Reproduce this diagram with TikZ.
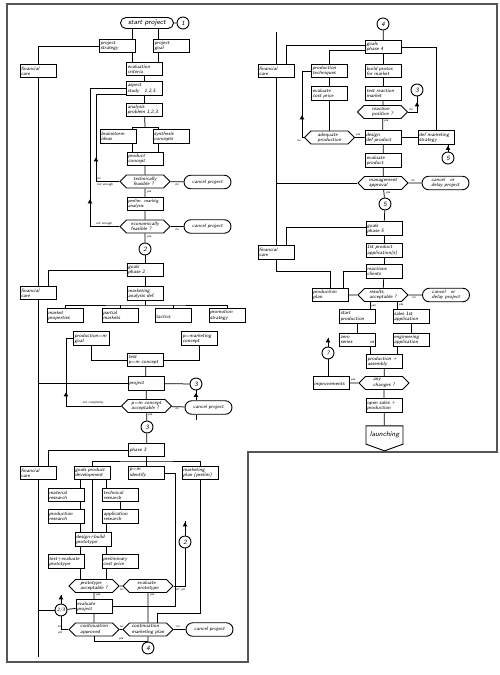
\documentclass[tikz,border=0pt]{standalone}
\usepackage{fontspec}
\usepackage{tikz}
\usetikzlibrary{shapes.geometric, shapes.misc, shapes.symbols, positioning, calc}
\definecolor{framegray}{RGB}{85,85,85}
\newcommand{\flowfont}{\fontsize{5}{5.4}\selectfont\sffamily\itshape}
\newcommand{\bigflowfont}{\fontsize{7}{8}\selectfont\sffamily\itshape}
\newcommand{\tinyflowfont}{\fontsize{3.2}{3.6}\selectfont\sffamily\itshape}

\begin{document}
\begin{tikzpicture}[
    x=1pt, y=-1pt, line width=0.75pt,
    box/.style={rectangle, draw, line width=0.9pt, minimum width=36pt, minimum height=13.5pt, text width=34pt, inner xsep=1pt, inner ysep=1.5pt, align=left, font=\flowfont},
    dec/.style={signal, signal to=east and west, draw, line width=0.9pt, minimum width=50pt, minimum height=13pt, inner sep=1pt, align=left, font=\flowfont},
    term/.style={rounded rectangle, draw, line width=0.9pt, minimum width=49pt, minimum height=13.5pt, inner sep=1pt, align=left, font=\flowfont},
    conn/.style={circle, draw, line width=0.9pt, minimum size=12pt, inner sep=0pt, font=\fontsize{6.5}{7}\selectfont\sffamily\itshape},
    upmark/.style={isosceles triangle, isosceles triangle apex angle=60, shape border rotate=90, fill, inner sep=0pt, minimum size=4pt},
    lbl/.style={font=\tinyflowfont, inner sep=0pt}
]
\useasboundingbox (0,0) rectangle (500,675);
\draw[framegray, line width=1.6pt] (7,4) -- (497,4) -- (497,452) -- (248,452) -- (248,662) -- (7,662) -- cycle;

% left column
\node[term, minimum width=55pt, minimum height=11pt, font=\bigflowfont] (startp) at (147,23) {start project};
\node[conn] (c1) at (183,23) {1};
\node[box] (pstrat) at (117.5,46) {project\\strategy};
\node[box] (pgoal) at (171.5,46) {project\\goal};
\node[box] (fin1) at (38,71) {financial\\care};
\node[box] (evalc) at (144.5,69) {evaluation\\criteria};
\node[box] (aspect) at (144.5,88.5) {aspect\\study\quad 1,2,3.};
\node[box] (analysis) at (144.5,110) {analysis\\problem 1,2,3.};
\node[box] (brain) at (118,136.5) {brainstorm\\ideas};
\node[box] (synth) at (171,136.5) {synthesis\\concepts};
\node[box] (pconc) at (145,159) {product\\concept};
\node[dec] (techf) at (145,181.5) {technically\\feasible ?};
\node[term] (cancel1) at (207.5,182) {cancel project};
\node[box, font=\fontsize{4.6}{5.4}\selectfont\sffamily\itshape] (prelim) at (145,204) {prelim. marktg\\analysis};
\node[dec] (econf) at (145,226.5) {economically\\feasible ?};
\node[term] (cancel2) at (207.5,226.5) {cancel project};
\node[conn] (c2a) at (145,249) {2};
\node[box] (goals2) at (145,270) {goals\\phase 2};
\node[box] (fin2) at (38,293) {financial\\care};
\node[box] (mkta) at (145,293.5) {marketing\\analysis def.};
\node[box] (mprop) at (65,315.5) {market\\properties};
\node[box] (pmark) at (120,315.5) {partial\\markets};
\node[box] (tact) at (173,315.5) {\mbox{}\\tactics};
\node[box] (promo) at (227,315.5) {promotion\\strategy};
\node[box] (pmgoal) at (91.5,338.5) {production=m\\goal};
\node[box] (pmconc) at (199.5,338.5) {p=marketing\\concept};
\node[box] (testpm) at (145.5,360) {test\\p=m concept};
\node[box] (project) at (146,383.5) {project};
\node[conn] (c3a) at (196,384) {3};
\node[dec] (pmacc) at (146.5,406) {p=m concept\\acceptable ?};
\node[term] (cancel3) at (208.5,407.5) {cancel project};
\node[conn] (c3b) at (147,427) {3};
\node[box] (phase3) at (146.5,450) {phase 3};
\node[box] (fin3) at (38,473) {financial\\care};
\node[box] (gpd) at (92,473) {goals product\\development};
\node[box] (pmid) at (146.5,473) {p=m\\identify};
\node[box] (mplan) at (200,473) {marketing\\plan (prelim)};
\node[box] (matr) at (66,495) {material\\research};
\node[box] (techr) at (120.5,495) {technical\\research};
\node[box] (prodr) at (66,516.5) {production\\research};
\node[box] (applr) at (120.5,516.5) {application\\research};
\node[box] (design) at (93,539.5) {design+build\\prototype};
\node[conn] (c2b) at (185,542) {2};
\node[box] (testev) at (66,561.5) {test+evaluate\\prototype};
\node[box] (prelcp) at (120,561.5) {preliminary\\cost price};
\node[dec] (protacc) at (94,586) {prototype\\acceptable ?};
\node[dec] (evalprot) at (148,586) {evaluate\\prototype};
\node[box] (evalproj) at (94,606.5) {evaluate\\project};
\node[conn, font=\fontsize{5}{5}\selectfont\sffamily\itshape] (c23) at (61,610) {2/3};
\node[dec] (contapp) at (94,629.5) {continuation\\approved};
\node[dec] (contmkt) at (148,629.5) {continuation\\marketing plan};
\node[term] (cancel4) at (209.5,629.5) {cancel project};
\node[conn] (c4a) at (148,648) {4};

% right column
\node[conn] (c4b) at (383,24) {4};
\node[box] (goals4) at (383.5,47) {goals\\phase 4};
\node[box] (fin4) at (276,71) {financial\\care};
\node[box] (prodtech) at (329.5,71) {production\\techniques};
\node[box] (build) at (383.5,71) {build protos\\for market};
\node[box] (evcost) at (329.5,93.5) {evaluate\\cost price};
\node[box] (testreact) at (383.5,93.5) {test reaction\\market};
\node[conn] (c3c) at (417,90) {3};
\node[dec] (reactpos) at (382.5,112) {reaction\\positive ?};
\node[dec] (adequate) at (329.5,137.5) {adequate\\production};
\node[box] (designdef) at (383,137.5) {design\\def product};
\node[box] (defmkt) at (436,137.5) {def marketing\\strategy};
\node[conn] (c5a) at (448,158) {5};
\node[box] (evalprod) at (383.5,160.5) {evaluate\\product};
\node[dec] (mgmt) at (383,183) {management\\approval};
\node[term] (cancel5) at (445.5,183) {cancel\quad or\\delay project};
\node[conn] (c5b) at (385,204) {5};
\node[box] (goals5) at (384,228.5) {goals\\phase 5};
\node[box] (fin5) at (276,252.5) {financial\\care};
\node[box] (firstprod) at (384,250.5) {1st product\\application(s)};
\node[box] (reactcl) at (384,271.5) {reactions\\clients};
\node[box] (prodplan) at (330,295) {production\\plan};
\node[dec] (results) at (383,295) {results,\\acceptable ?};
\node[term] (cancel6) at (446,295) {cancel\quad or\\delay project};
\node[box] (startprod) at (357.5,316.5) {start\\production};
\node[box] (sales) at (411,316.5) {sales 1st\\application};
\node[box] (zero) at (357.5,340) {zero\\series\hfill or};
\node[box] (engin) at (411,340) {engineering\\application};
\node[box] (prodasm) at (384.5,361.5) {production +\\assembly};
\node[conn] (cq) at (328,353) {?};
\node[box] (improve) at (331,383) {\mbox{}\\improvements};
\node[dec] (anych) at (384,383) {any\\changes ?};
\node[box] (opensales) at (384,405.5) {open sales +\\production};
\node[signal, signal to=south, signal pointer angle=140, draw, line width=0.9pt, minimum width=37pt, minimum height=24pt, inner sep=1pt, font=\bigflowfont] (launch) at (384.5,435) {launching};

% markers
\node[upmark] (m1) at (96,160) {};
\node[upmark] (m2) at (90,202) {};
\node[upmark] (m3) at (66,395) {};
\node[upmark] (m4) at (196,395.5) {};
\node[upmark] (m5) at (185,525) {};
\node[upmark] (m6) at (61,598) {};
\node[upmark] (m7) at (417,105) {};
\node[upmark] (m8) at (302,118) {};
\node[upmark] (m9) at (448,148.5) {};
\node[upmark] (m10) at (328,341) {};

\coordinate (sx1) at (132,0);
\coordinate (sx2) at (158,0);
\coordinate (sx3) at (80,0);
\coordinate (sx4) at (92,0);
\coordinate (sx5) at (106,0);
\coordinate (fb1) at (96,94);
\coordinate (fb2) at (90,88);
\coordinate (fb3) at (66,0);
\coordinate (fb4) at (302,0);
\coordinate (fb5) at (0,271.5);
\coordinate (jn1) at (175,0);
\coordinate (mpl) at (157,613);
\coordinate (rx1) at (370,0);
\coordinate (rx2) at (397,0);
\coordinate (split1) at (145,127);
\coordinate (bus2) at (145,305);
\coordinate (bus3) at (146.5,461);
\coordinate (finend) at (38,657);
\coordinate (rtop) at (276,32);
\coordinate (c2btop) at (185,521);
\coordinate (c23top) at (61,595);
\coordinate (cqtop) at (328,338);
\coordinate (c3atail) at (196,420);

% left connectors
\draw (startp) -- (c1);
\draw (startp.south -| sx1) -- (pstrat.north -| sx1);
\draw (startp.south -| sx2) -- (pgoal.north -| sx2);
\draw (pstrat.south -| sx1) -- (evalc.north -| sx1);
\draw (pgoal.south -| sx2) -- (evalc.north -| sx2);
\draw (pstrat.west) -| (fin1.north);
\draw (fin1) -- (fin2);
\draw (fin2) -- (fin3);
\draw (fin3) -- (finend);
\draw (evalc) -- (aspect);
\draw (aspect) -- (analysis);
\draw (analysis) -- (split1);
\draw (brain.north -| sx1) -- (split1 -| sx1) -- (split1 -| sx2) -- (synth.north -| sx2);
\draw (brain.south -| sx1) -- (pconc.north -| sx1);
\draw (synth.south -| sx2) -- (pconc.north -| sx2);
\draw (pconc) -- (techf);
\draw (techf.west) -| (fb1) -- (aspect.west |- fb1);
\draw (techf) -- (cancel1);
\draw (techf) -- (prelim);
\draw (prelim) -- (econf);
\draw (econf.west) -| (fb2) -- (aspect.west |- fb2);
\draw (econf) -- (cancel2);
\draw (econf) -- (c2a);
\draw (c2a) -- (goals2);
\draw (goals2.west) -| ([xshift=10pt]fin2.north);
\draw (goals2) -- (mkta);
\draw (mkta) -- (bus2);
\draw (mprop.north) |- (bus2) -| (promo.north);
\draw (pmark.north) -- (pmark.north |- bus2);
\draw (tact.north) -- (tact.north |- bus2);
\draw (pmgoal.south) |- (testpm.west);
\draw (pmconc.south) |- (testpm.east);
\draw (testpm) -- (project);
\draw (project.west) -- (project.west -| fin2.south);
\draw (project) -- (c3a);
\draw (project) -- (pmacc);
\draw (pmacc.west) -| (pmgoal.west -| fb3) -- (pmgoal.west);
\draw (pmacc) -- (cancel3);
\draw (cancel3.north -| c3a) -- (c3a);
\draw (cancel3.south -| c3a) -- (c3atail);
\draw (pmacc) -- (c3b);
\draw (c3b) -- (phase3);
\draw (phase3.west) -| ([xshift=10pt]fin3.north);
\draw (phase3) -- (pmid);
\draw (gpd.north) |- (bus3) -| (mplan.north);
\draw (gpd.south -| sx3) -- (matr.north -| sx3);
\draw (matr.south -| sx3) -- (prodr.north -| sx3);
\draw (prodr.south -| sx3) -- (design.north -| sx3);
\draw (gpd.south -| sx4) -- (design.north -| sx4);
\draw (gpd.south -| sx5) -- (techr.north -| sx5);
\draw (techr) -- (applr);
\draw (applr.south -| sx5) -- (design.north -| sx5);
\draw (pmid.east) -| (evalproj.east -| jn1) -- (evalproj.east);
\draw (design.south -| sx3) -- (testev.north -| sx3);
\draw (design.south -| sx5) -- (prelcp.north -| sx5);
\draw (testev.south -| sx3) -- (protacc.north -| sx3);
\draw (prelcp.south -| sx5) -- (protacc.north -| sx5);
\draw (protacc) -- (evalprot);
\draw (protacc) -- (evalproj);
\draw (evalprot) -- (contmkt);
\draw (evalprot.east) -| (c2b.south);
\draw (c2b) -- (c2btop);
\draw (evalproj) -- (c23);
\draw (c23.west) -- (c23.west -| fin3.south);
\draw (c23) -- (c23top);
\draw (evalproj) -- (contapp);
\draw (contapp.west) -| (c23.south);
\draw (contapp) -- (contmkt);
\draw (contmkt) -- (cancel4);
\draw (mplan.south) |- (mpl) -- (contmkt.north -| mpl);
\draw (contapp.south) |- (c4a.north);
\draw (contmkt) -- (c4a);

% right connectors
\draw (rtop) -- (fin4);
\draw (fin4) -- (fin5);
\draw (c4b) -- (goals4);
\draw ([yshift=2pt]goals4.west) -| ([xshift=10pt]fin4.north);
\draw ([yshift=-3pt]goals4.west) -| (prodtech.north);
\draw (goals4.east) -| (defmkt.north);
\draw (goals4) -- (build);
\draw (build) -- (testreact);
\draw (testreact) -- (reactpos);
\draw (reactpos.east) -| (c3c.south);
\draw (reactpos) -- (designdef);
\draw (prodtech) -- (evcost);
\draw (evcost) -- (adequate);
\draw (adequate) -- (designdef);
\draw (adequate.west) -| (prodtech.west -| fb4) -- (prodtech.west);
\draw (designdef) -- (defmkt);
\draw (defmkt.south -| c5a) -- (c5a);
\draw (designdef) -- (evalprod);
\draw (evalprod) -- (mgmt);
\draw (mgmt.west) -- (mgmt.west -| fin4.south);
\draw (mgmt) -- (cancel5);
\draw (mgmt) -- (c5b);
\draw (c5b) -- (goals5);
\draw ([yshift=1.5pt]goals5.west) -| ([xshift=10pt]fin5.north);
\draw (goals5) -- (firstprod);
\draw (firstprod) -- (reactcl);
\draw (fin5.south) |- (prodplan.north |- fb5) -- (prodplan.north);
\draw (reactcl.west) -| ([xshift=13pt]prodplan.north);
\draw (reactcl) -- (results);
\draw (results) -- (prodplan);
\draw (results) -- (cancel6);
\draw (results.south -| rx1) -- (startprod.north -| rx1);
\draw (results.south -| rx2) -- (sales.north -| rx2);
\draw (startprod) -- (zero);
\draw (sales) -- (engin);
\draw (zero.south -| rx1) -- (prodasm.north -| rx1);
\draw (engin.south -| rx2) -- (prodasm.north -| rx2);
\draw (prodasm) -- (anych);
\draw (anych) -- (improve);
\draw (cq) -- (cq |- improve.north);
\draw (cq) -- (cqtop);
\draw (anych) -- (opensales);
\draw (opensales) -- (launch);

% labels
\node[lbl] (l1) at (99,178.5) {no};
\node[lbl] (l2) at (105,185) {not enough};
\node[lbl] (l3) at (177,185) {no};
\node[lbl] (l4) at (149,192) {yes};
\node[lbl] (l5) at (104,223.5) {not enough};
\node[lbl] (l6) at (177,229.5) {no};
\node[lbl] (l7) at (149,237.5) {yes};
\node[lbl] (l8) at (93,403) {not completely};
\node[lbl] (l9) at (177,409) {no};
\node[lbl] (l10) at (150,415) {yes};
\node[lbl] (l11) at (121.5,589.5) {no};
\node[lbl] (l12) at (180,589.5) {not yet};
\node[lbl] (l13) at (98,595.5) {yes};
\node[lbl] (l14) at (152,595.5) {yes};
\node[lbl] (l15) at (60,627) {not};
\node[lbl] (l16) at (60,632.5) {yet};
\node[lbl] (l17) at (121.5,627) {no};
\node[lbl] (l18) at (178,627) {no};
\node[lbl] (l19) at (121,639.5) {yes};
\node[lbl] (l20) at (411,110) {no};
\node[lbl] (l21) at (386,121.5) {yes};
\node[lbl] (l22) at (299,140.5) {no};
\node[lbl] (l23) at (358,135) {yes};
\node[lbl] (l24) at (413,180.5) {no};
\node[lbl] (l25) at (388,193) {yes};
\node[lbl] (l26) at (414,298) {no};
\node[lbl] (l27) at (373.5,306) {yes};
\node[lbl] (l28) at (401,305.5) {yes};
\node[lbl] (l29) at (353,380.5) {yes};
\end{tikzpicture}
\end{document}
